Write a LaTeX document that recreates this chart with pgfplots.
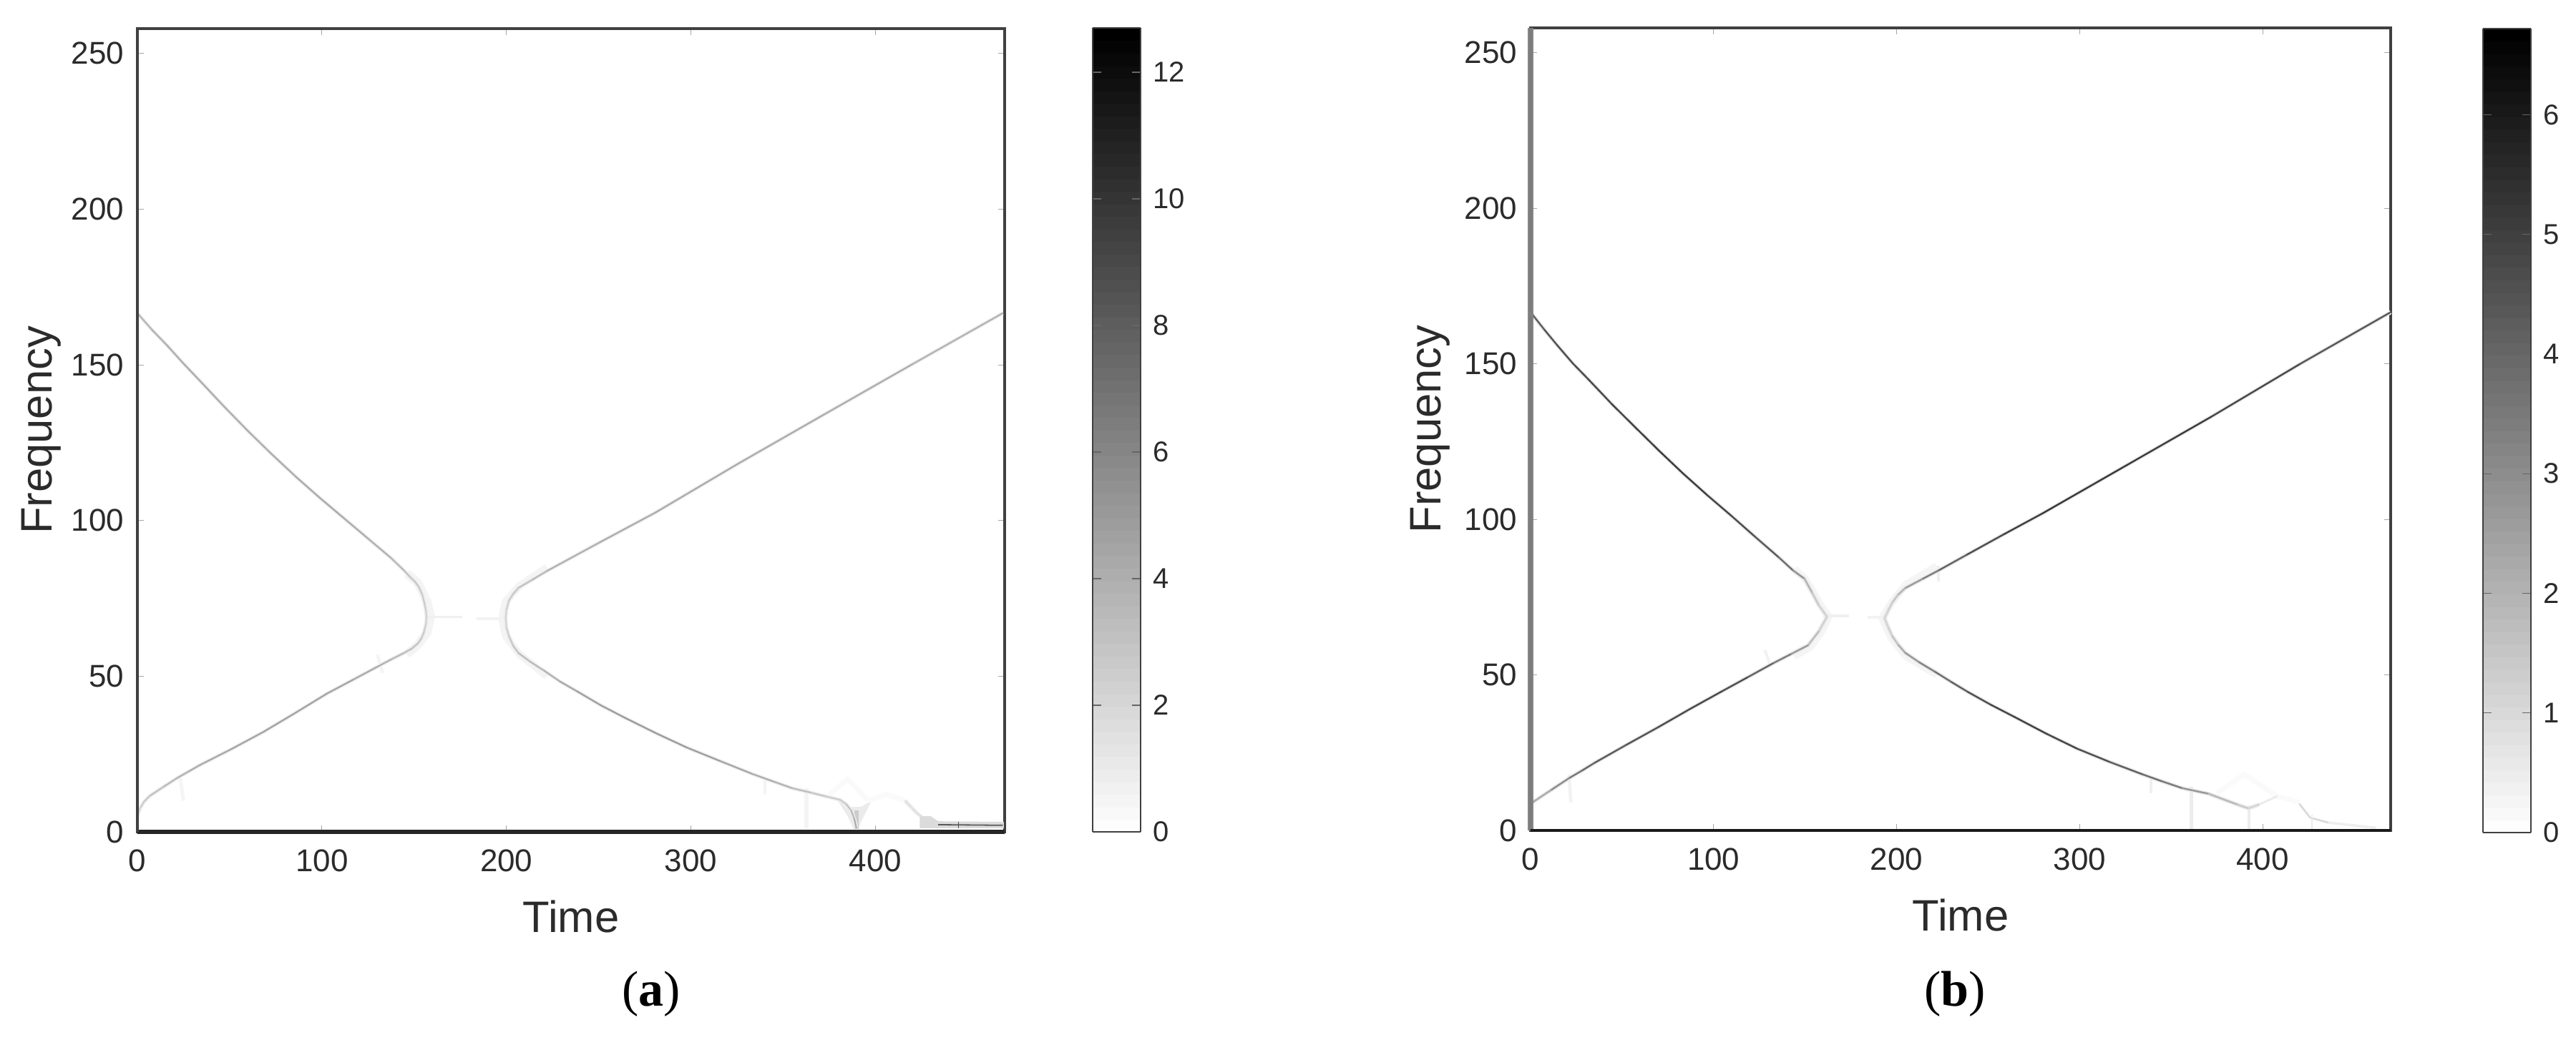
\documentclass[border=0pt]{standalone}
\usepackage{fontspec}
\setmainfont{Liberation Sans}
\newfontfamily\capfont{Liberation Serif}
\usepackage{pgfplots}
\usepackage{pgfplotstable}
\pgfplotsset{compat=1.18}
\definecolor{txt}{gray}{0.17}
\definecolor{frame}{gray}{0.25}

% ---------- panel (a)
\pgfplotstableread{
x y c
0 166.6 3.4
8 161.2 3.8
16 156.3 4.0
25 150.4 4.1
34 144.8 4.2
47 136.6 4.1
60 128.7 4.0
73 121.2 4.1
86 114 4.2
99 107.2 4.3
112 100.7 4.2
125 94.2 4.0
137.4 88 3.8
144.6 83.9 3.2
147.7 81.9 2.9
150.4 80.4 2.7
152.6 78.6 2.7
154.4 76.2 2.6
155.6 73.4 2.5
156.4 71 2.3
156.7 69 2.1
156.4 66.8 2.3
155.4 64.3 2.5
154 62.2 2.7
152 60.5 2.9
148.6 58.8 3.1
144.3 57.4 3.3
137.6 55.4 3.6
130.6 53.2 4.0
117 48.9 4.4
102.7 44.4 4.6
85.6 38.2 4.6
68.3 32.1 4.6
51 26.6 4.4
33.7 21.4 4.2
27.5 19.3 4.0
21.3 17.2 3.6
14 14.4 3.2
6.6 11.5 2.8
3.5 9.6 2.5
1.5 7.6 2.3
0 5.3 1.8
}\aleft
\pgfplotstableread{
x y c
469 166.6 3.6
420 150.2 4.0
372 134 4.2
326 118.4 4.2
280.6 102.5 4.2
250 92.8 4.0
222 83.8 3.8
213.5 80.8 3.2
206.6 78.4 2.9
203.6 76.4 2.7
201.4 74.3 2.5
200 71.4 2.2
199.6 68.5 2.0
200 65.6 2.2
201.4 62.8 2.5
203.6 59.8 2.8
206.6 57.4 3.1
213 54.6 3.4
220.6 51.7 3.6
229 48.3 4.1
238.4 45.1 4.6
251 40.7 4.8
264 36.7 5.0
281 31.7 5.0
297.7 27.1 5.0
316 22.7 4.6
333.3 18.6 4.2
345 16.1 3.9
355 14 3.6
365 12.6 2.9
373 11.4 2.6
380.8 10.3 2.3
384.3 8.8 2.7
386.8 6.9 3.1
388.5 4.2 3.8
389.6 1.4 4.6
}\aright

% ---------- panel (b)
\pgfplotstableread{
x y c
0 166.6 4.0
7.5 161 4.4
14.8 155.8 4.6
23 150.2 4.7
31.6 145 4.8
44.5 137 4.9
57.7 129.3 5.0
70.5 121.9 5.1
83.4 114.7 5.2
96.5 107.8 5.0
109.6 101.2 4.8
122.5 94.5 4.5
135.6 87.8 4.2
143.4 83.6 3.3
149.7 80.9 2.4
154 76.3 1.5
157.5 72.4 1.3
162 68.7 1.1
157.5 64 1.3
151.6 59.5 2.2
142 56.6 3.1
132.4 53.7 3.7
118.5 49.2 4.4
104.5 44.7 4.8
87 39 4.8
69.8 33.2 4.6
52.3 27.5 4.4
34.9 21.7 4.2
28 19.2 3.7
21 16.8 3.3
11 12.9 2.6
1 9 1.8
}\bleft
\pgfplotstableread{
x y c
470 166.6 4.2
420 149.8 4.6
372 133 5.0
326 117.5 5.2
280 102 5.2
258 95 4.9
238 88.5 4.4
223 83.6 3.7
214 80.8 3.1
204.7 77.9 2.2
200.7 75.7 1.8
197.7 73.3 1.3
195.5 70.8 1.2
193.4 68.2 1.1
195.5 65.2 1.2
197.7 62.4 1.3
201 59.6 1.9
204.7 57.1 2.4
212.5 54 3.0
221 51 3.5
230 47.7 4.0
239 44.5 4.4
251.5 40.4 4.8
264.7 36.4 5.0
281.5 31.2 5.0
298.6 26.3 4.8
316.5 22 4.4
334.5 18 4.0
345 15.8 3.6
356 13.6 3.3
370.4 11.8 2.2
386.3 8.3 1.5
392.2 7.1 1.3
398 8.3 0.9
}\bright

\pgfplotsset{
  bwmap/.style={colormap={bw}{gray(0cm)=(1); gray(1cm)=(0)}},
  panel/.style={
    bwmap,
    scale only axis,
    xmin=0, xmax=470, ymin=0, ymax=258,
    xtick={0,100,200,300,400},
    ytick={0,50,100,150,200,250},
    tick align=inside,
    major tick length=2.2pt,
    major tick style={color=gray!70,line width=0.25pt},
    axis line style={color=frame,line width=0.9pt},
    clip=false,
    /pgf/number format/assume math mode=true,
    tick label style={font=\fontsize{11}{11}\selectfont,text=txt},
    xticklabel style={yshift=-2.6pt},
    yticklabel style={xshift=-1.2pt},
    xlabel=Time, ylabel=Frequency,
    every axis x label/.style={at={(axis description cs:0.5,0)},anchor=center,yshift=-29.5pt,
      font=\fontsize{15.4}{16}\selectfont,text=txt},
    every axis y label/.style={at={(axis description cs:0,0.5)},xshift=-35pt,rotate=90,anchor=center,
      font=\fontsize{15.4}{16}\selectfont,text=txt},
    colorbar sampled,
    colorbar shift/.style={},
  },
  cbar/.style={
    samples=65,
    width=16.75pt, height=281pt,
    scale only axis,
    at={(parent axis.north east)}, anchor=north west,
    axis line style={color=frame,line width=0.7pt},
    tick align=inside,
    major tick length=3pt,
    major tick style={color=gray!80!black,line width=0.3pt},
    /pgf/number format/assume math mode=true,
    yticklabel style={font=\fontsize{10}{10}\selectfont,text=txt,xshift=0.8pt},
  },
  halo/.style={no marks,line width=#1,line join=round},
}

\begin{document}
\begin{tikzpicture}[x=1pt,y=1pt]
\useasboundingbox (0,0) rectangle (900,363.5);

%================= (a)
\begin{axis}[panel, at={(48pt,72.75pt)}, anchor=south west,
  width=303pt, height=280.75pt,
  every axis y label/.append style={yshift=-1.4pt},
  point meta min=0, point meta max=12.7,
  colorbar style={cbar, xshift=30.75pt, yshift=0.25pt, ytick={0,2,4,6,8,10,12}}]
  % diffuse energy round the turning points
  \addplot[halo=3pt,gray!9] coordinates {(146,83)(152,80)(157,74)(159,69)(157,64)(152,60)(146,57)};
  \addplot[halo=2.6pt,gray!9] coordinates {(222,85)(207,79)(199.5,74)(197.5,68.5)(199.5,63)(207,57)(222,50)};
  \addplot[halo=0.9pt,gray!12] coordinates {(157,69)(176,69)};
  \addplot[halo=0.9pt,gray!10] coordinates {(184,68.5)(200,68.5)};
  % spurs near the start
  \addplot[halo=1.2pt,gray!8] coordinates {(23,18)(25,10)};
  \addplot[halo=1.2pt,gray!8] coordinates {(130,57)(133,51)};
  % funnels near the end
  \addplot[halo=1.4pt,gray!9] coordinates {(362.5,14)(362.5,1)};
  \addplot[halo=1pt,gray!9] coordinates {(340,17)(340,12)};
  \addplot[fill=gray!16,draw=none] coordinates {(379,10.5)(386,8)(392,8)(398,10)(392,3)(391,1)(388,1)(385,5)};
  \addplot[halo=1.6pt,gray!40] coordinates {(389.7,7)(389.7,1)};
  \addplot[halo=1.8pt,gray!4] coordinates {(375,12)(385,17)(396,10)(406,12)(416,10)(422.5,6)};
  \addplot[halo=1pt,gray!22] coordinates {(416,10)(422.5,6)(428.3,3.4)};
  % band at the lowest frequency
  \addplot[fill=gray!28,draw=none] coordinates {(424,1.2)(424,5)(430,5)(434,3.4)(469.6,3.2)(469.6,1.2)};
  \addplot[halo=0.45pt,gray!70!black] coordinates {(434,2.3)(469,2.1)};
  \addplot[halo=0.35pt,black!70] coordinates {(445,3.2)(445,1.2)};
  % ridges
  \addplot[halo=1.3pt,gray!13] table[x=x,y=y] {\aleft};
  \addplot[halo=1.3pt,gray!13] table[x=x,y=y] {\aright};
  \addplot[mesh,point meta=explicit,line width=0.55pt,line join=round,line cap=round] table[x=x,y=y,meta=c] {\aleft};
  \addplot[mesh,point meta=explicit,line width=0.55pt,line join=round,line cap=round] table[x=x,y=y,meta=c] {\aright};
  % heavier edges
  \addplot[no marks,line width=1.5pt,color=black!85] coordinates {(0,0)(470,0)};
  \addplot[no marks,line width=0.9pt,color=frame] coordinates {(0,0)(0,258)};
\end{axis}

%================= (b)
\begin{axis}[panel, at={(534.75pt,73.25pt)}, anchor=south west,
  width=300.5pt, height=280.5pt,
  point meta min=0, point meta max=6.72,
  colorbar style={cbar, xshift=32.25pt, yshift=-0.25pt, ytick={0,1,2,3,4,5,6}}]
  \addplot[halo=2.6pt,gray!8] coordinates {(144,84)(150,81)(155,76)(159,72)(163,68.7)(159,64)(153,59)(144,56)};
  \addplot[halo=2.6pt,gray!8] coordinates {(222,85)(205,79)(197,73)(192,68.2)(197,62)(205,56)(222,50)};
  \addplot[halo=0.8pt,gray!12] coordinates {(160,69)(174,69)};
  \addplot[halo=0.8pt,gray!10] coordinates {(184,68.5)(195,68.5)};
  \addplot[halo=1.1pt,gray!10] coordinates {(21,18)(22,9)};
  \addplot[halo=1pt,gray!10] coordinates {(128,58)(131,53)};
  \addplot[halo=1pt,gray!12] coordinates {(223,85)(223,80)};
  \addplot[halo=0.9pt,gray!12] coordinates {(339,17)(339,12)};
  \addplot[halo=1.2pt,gray!14] coordinates {(361,14)(361,0.5)};
  \addplot[halo=0.9pt,gray!14] coordinates {(392.5,8)(392.5,0.5)};
  \addplot[halo=1.8pt,gray!4] coordinates {(375,12)(390,18)(408,11)(420,9)};
  \addplot[halo=0.7pt,gray!16] coordinates {(398,8.3)(408,11)};
  \addplot[halo=0.7pt,gray!28] coordinates {(420,8.6)(426,4.1)(436,2.5)};
  \addplot[halo=0.9pt,gray!13] coordinates {(436,2.5)(450,1.6)(462,0.8)};
  \addplot[halo=0.7pt,gray!16] coordinates {(427,5)(427,0.5)};
  \addplot[halo=1.4pt,gray!16] table[x=x,y=y] {\bleft};
  \addplot[halo=1.4pt,gray!16] table[x=x,y=y] {\bright};
  \addplot[mesh,point meta=explicit,line width=0.6pt,line join=round,line cap=round] table[x=x,y=y,meta=c] {\bleft};
  \addplot[mesh,point meta=explicit,line width=0.6pt,line join=round,line cap=round] table[x=x,y=y,meta=c] {\bright};
  % heavier edges
  \addplot[no marks,line width=2pt,color=gray,opacity=0.95] coordinates {(0,0)(0,258)};
  \addplot[no marks,line width=1pt,color=black!90] coordinates {(0,0)(470,0)};
\end{axis}

\node[font=\capfont\fontsize{17.5}{18}\selectfont,text=black] at (227.5,16) {(\textbf{a})};
\node[font=\capfont\fontsize{17.5}{18}\selectfont,text=black] at (683,16) {(\textbf{b})};
\end{tikzpicture}
\end{document}
